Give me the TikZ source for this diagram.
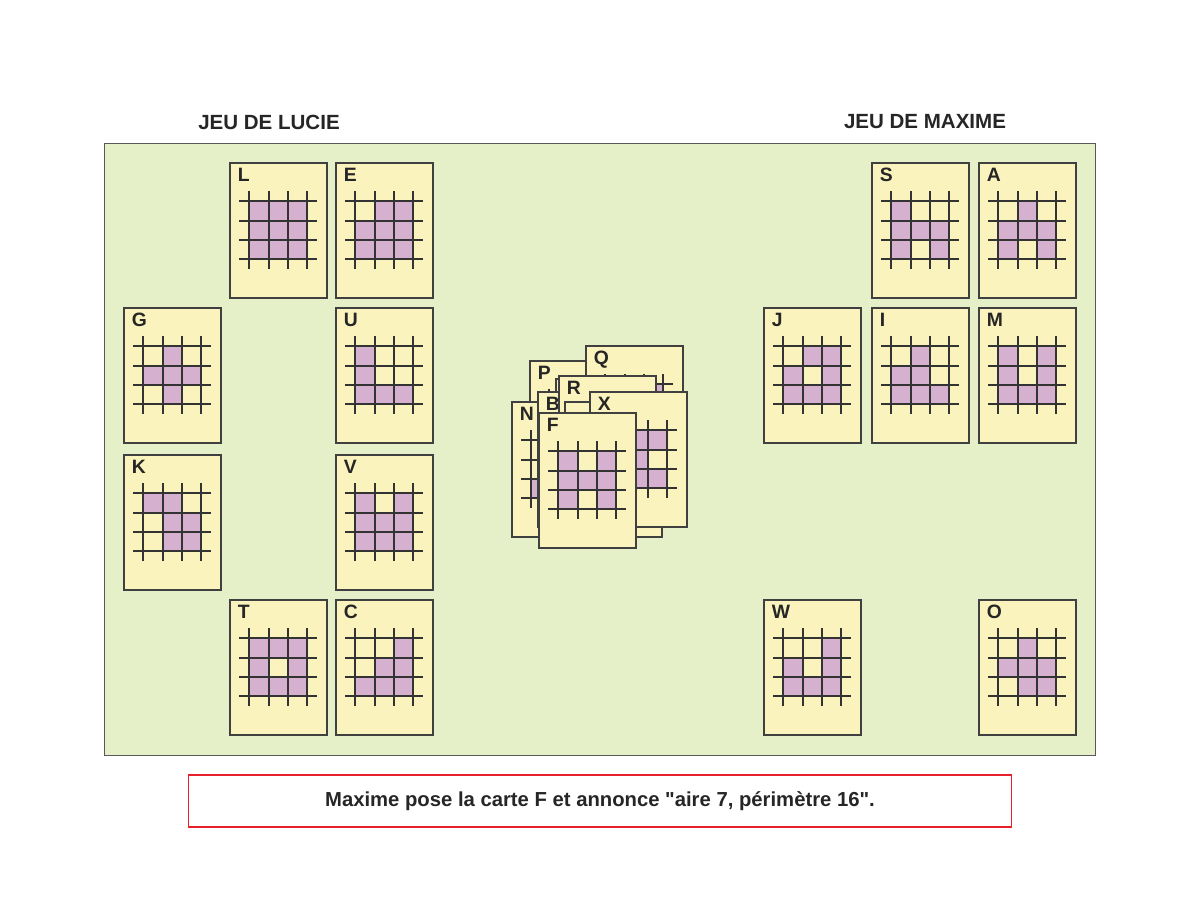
\documentclass[tikz,border=0pt]{standalone}
\usepackage{fontspec}
\setmainfont{Liberation Sans}[Ligatures=TeXOff]
\definecolor{tapis}{RGB}{229,240,201}
\definecolor{jaune}{RGB}{250,243,189}
\definecolor{mauve}{RGB}{213,177,207}
\definecolor{rouge}{RGB}{232,32,42}

% une carte : x, y (coin haut gauche), nom, lettre, cases coloriees col/ligne
\newcommand{\carte}[5]{%
	\begin{scope}[shift={(#1,#2)}]
		\filldraw[carte] (0,0) rectangle (97,135);
		\foreach \c/\r in {#5}
		\fill[mauve] ({round(19.3*(\c+1))},{round(38.4+19.3*\r)}) rectangle ({round(19.3*(\c+2))},{round(38.4+19.3*(\r+1))});
		\foreach \i in {0,...,3} {
			\draw[grille] ({round(19.3*(\i+1))},28) -- ++(0,78);
			\draw[grille] (9,{round(38.4+19.3*\i)}) -- ++(78,0);
		}
		\node[lettre] (#3) at (7.6,4.6) {#4};
	\end{scope}}

\begin{document}
\begin{tikzpicture}[x=0.75pt, y=-0.75pt,
	carte/.style={fill=jaune, draw=black!75, line width=1pt},
	grille/.style={draw=black!80, line width=1.3pt},
	lettre/.style={anchor=north west, inner sep=0pt, text=black!85,
		font=\fontsize{14.5}{15}\selectfont\bfseries},
	titre/.style={text=black!85, font=\fontsize{15.4}{17}\selectfont\bfseries}]
		\useasboundingbox (0,0) rectangle (1200,900);
		\fill[white] (0,0) rectangle (1200,900);

		\filldraw[fill=tapis, draw=black!65, line width=0.7pt] (104,143) rectangle (1095,755);
		\node[titre] (lucie) at (269,122) {JEU DE LUCIE};
		\node[titre] (maxime) at (925,122) {JEU DE MAXIME};

		% jeu de Lucie
		\carte{230}{163}{L}{L}{0/0,1/0,2/0,0/1,1/1,2/1,0/2,1/2,2/2}
		\carte{336}{163}{E}{E}{1/0,2/0,0/1,1/1,2/1,0/2,1/2,2/2}
		\carte{124}{308}{G}{G}{1/0,0/1,1/1,2/1,1/2}
		\carte{336}{308}{U}{U}{0/0,0/1,0/2,1/2,2/2}
		\carte{124}{455}{K}{K}{0/0,1/0,1/1,2/1,1/2,2/2}
		\carte{336}{455}{V}{V}{0/0,2/0,0/1,1/1,2/1,0/2,1/2,2/2}
		\carte{230}{600}{T}{T}{0/0,1/0,2/0,0/1,2/1,0/2,1/2,2/2}
		\carte{336}{600}{C}{C}{2/0,1/1,2/1,0/2,1/2,2/2}

		% jeu de Maxime
		\carte{872}{163}{S}{S}{0/0,0/1,1/1,2/1,0/2,2/2}
		\carte{979}{163}{A}{A}{1/0,0/1,1/1,2/1,0/2,2/2}
		\carte{764}{308}{J}{J}{1/0,2/0,0/1,2/1,0/2,1/2,2/2}
		\carte{872}{308}{I}{I}{1/0,0/1,1/1,0/2,1/2,2/2}
		\carte{979}{308}{M}{M}{0/0,2/0,0/1,2/1,0/2,1/2,2/2}
		\carte{764}{600}{W}{W}{2/0,0/1,2/1,0/2,1/2,2/2}
		\carte{979}{600}{O}{O}{1/0,0/1,1/1,2/1,1/2,2/2}

		% la pile du milieu
		\carte{530}{361}{P}{P}{0/0,1/1,2/1,0/2}
		\carte{586}{346}{Q}{Q}{2/0,0/1,1/1,2/1,0/2}
		\carte{556}{379}{dos1}{}{1/0,1/1,1/2}
		\carte{512}{402}{N}{N}{1/1,2/1,0/2,1/2}
		\carte{538}{392}{B}{B}{0/0,0/1,1/1,1/2}
		\carte{559}{376}{R}{R}{1/0,0/1,1/1,2/2}
		\carte{565}{402}{dos2}{}{0/0,1/1,2/2}
		\carte{590}{392}{X}{X}{0/0,1/0,2/0,1/1,0/2,1/2,2/2}
		\carte{539}{413}{F}{F}{0/0,2/0,0/1,1/1,2/1,0/2,2/2}

		\node[draw=rouge, line width=0.9pt, fill=white, minimum width=617pt, minimum height=39pt,
			font=\fontsize{15.2}{17}\selectfont\bfseries, text=black!85]
			(message) at (600,801) {Maxime pose la carte F et annonce "aire 7, périmètre 16".};
	\end{tikzpicture}
\end{document}
